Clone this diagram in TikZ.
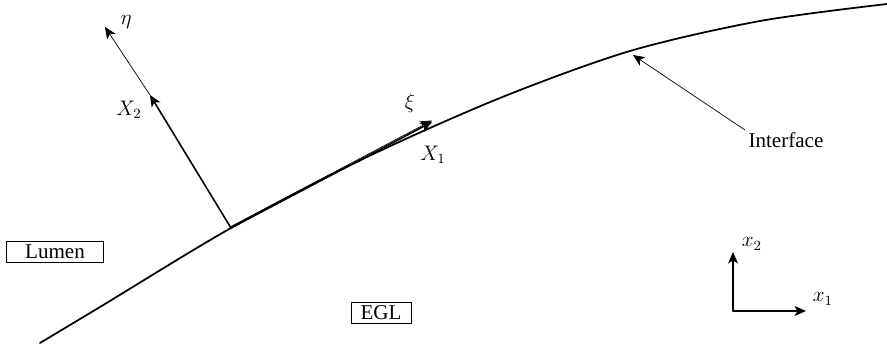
\documentclass[tikz,border=0pt]{standalone}
\usepackage{fontspec}
\setmainfont{Liberation Serif}
\usetikzlibrary{arrows.meta,positioning,calc}
\tikzset{region/.style={rectangle,draw,thin,minimum width=1.95cm,minimum height=4.2mm,inner sep=1pt,font=\fontsize{12}{14}\selectfont},tag/.style={font=\fontsize{12}{14}\selectfont,inner sep=1pt},vec/.style={-{Stealth[length=2.3mm,width=2mm,inset=0.6mm]},line width=.9pt},axis/.style={-{Stealth[length=2.3mm,width=2mm,inset=0.6mm]},line width=.6pt},pointer/.style={-{Stealth[length=2.3mm,width=2mm,inset=0.6mm]},line width=.4pt},interface/.style={line width=1pt},every picture/.style={line cap=round}}

\begin{document}
\begin{tikzpicture}[x=0.02cm,y=-0.02cm]
\useasboundingbox (0,0) rectangle (887,348);
% interface curve
\draw[interface] plot[smooth] coordinates {(40,343) (100,307) (231,228) (365,158) (500,98) (630,51) (760,21) (887,4)};
% local frame at the foot point
\coordinate (foot) at (231,228);
\coordinate (X2tip) at (150,95);
\coordinate (etatip) at (105,27);
\coordinate (X1tip) at (432,122);
\draw[vec] (foot)--(X2tip);
\draw[pointer] (X2tip)--(etatip);
\draw[pointer] ($(foot)+(0,-1.5)$)--($(X1tip)+(0,-1.5)$);
\draw[vec] (foot)--(X1tip);
\node[tag] (eta) at (126,22) {$\eta$};
\node[tag] (X2) at (129,110) {$X_2$};
\node[tag] (xi) at (410,103) {$\xi$};
\node[tag] (X1) at (433,155) {$X_1$};
% interface label
\coordinate (onint) at (633,55);
\node[tag] (intf) at (786,140) {Interface};
\draw[pointer] (745,130)--(onint);
% regions
\node[region] (lumen) at (55,252) {Lumen};
\node[region,minimum width=1.2cm] (egl) at (381,313) {EGL};
% global axes
\coordinate (O) at (733,311);
\coordinate (x2tip) at (733,252);
\coordinate (x1tip) at (806,311);
\draw[axis] (O)--(x2tip);
\draw[axis] (O)--(x1tip);
\node[tag] (x2) at (752,244) {$x_2$};
\node[tag] (x1) at (823,299) {$x_1$};
\end{tikzpicture}
\end{document}
